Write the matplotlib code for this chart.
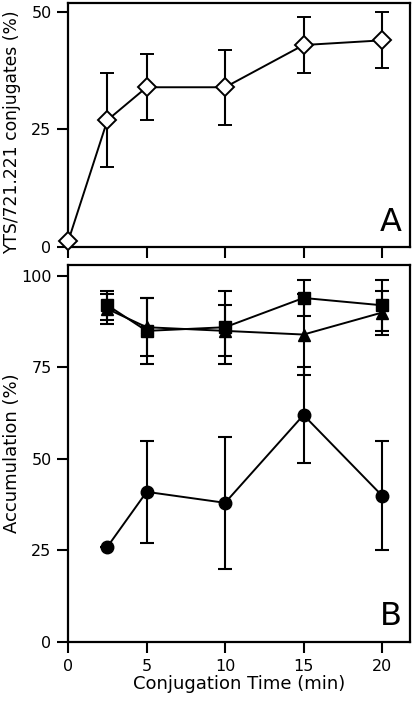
import numpy as np
import matplotlib.pyplot as plt

plt.rcParams['font.family'] = ['DejaVu Sans']

# panel A: conjugates
time_a = [0, 2.5, 5, 10, 15, 20]
conj = [1.2, 27, 34, 34, 43, 44]
conj_err = [0, 10, 7, 8, 6, 6]

# panel B: accumulation
time_b = [2.5, 5, 10, 15, 20]
squares = [92, 85, 86, 94, 92]
squares_err = [4, 9, 10, 5, 7]
triangles = [91, 86, 85, 84, 90]
triangles_err = [4, 8, 7, 11, 6]
circles = [26, 41, 38, 62, 40]
circles_err = [0, 14, 18, 13, 15]

xticks = [0, 5, 10, 15, 20]

fig = plt.figure(figsize=(4.16, 7.03), dpi=100)
ax1 = fig.add_axes([0.164, 0.649, 0.822, 0.347])
ax2 = fig.add_axes([0.164, 0.087, 0.822, 0.536])

def style(ax):
    for s in ax.spines.values():
        s.set_linewidth(1.6)
    ax.tick_params(direction='out', length=8, width=1.5, labelsize=11.5, pad=4)
    ax.set_xlim(0, 21.8)
    ax.set_xticks(xticks)

ax1.errorbar(time_a, conj, yerr=conj_err, color='black', lw=1.4, capsize=5,
             capthick=1.5, elinewidth=1.5, marker='D', ms=9, mfc='white',
             mec='black', mew=1.4, clip_on=False, zorder=3)
style(ax1)
ax1.set_ylim(0, 52)
ax1.set_yticks([0, 25, 50])
ax1.set_xticklabels([])
ax1.set_ylabel('YTS/721.221 conjugates (%)', fontsize=12.3)
ax1.text(0.975, 0.035, 'A', transform=ax1.transAxes, ha='right', va='bottom', fontsize=23)

for y, e, m, ms in [(triangles, triangles_err, '^', 8), (squares, squares_err, 's', 8),
                    (circles, circles_err, 'o', 9)]:
    ax2.errorbar(time_b, y, yerr=e, color='black', lw=1.4, capsize=5, capthick=1.5,
                 elinewidth=1.5, marker=m, ms=ms, mfc='black', mec='black', zorder=3)
style(ax2)
ax2.set_ylim(0, 103)
ax2.set_yticks([0, 25, 50, 75, 100])
ax2.set_xlabel('Conjugation Time (min)', fontsize=13, labelpad=1)
ax2.set_ylabel('Accumulation (%)', fontsize=13)
ax2.text(0.975, 0.025, 'B', transform=ax2.transAxes, ha='right', va='bottom', fontsize=23)

ax1.yaxis.set_label_coords(-0.138, 0.47)
ax2.yaxis.set_label_coords(-0.138, 0.5)
fig.savefig('out.png', dpi=100)
